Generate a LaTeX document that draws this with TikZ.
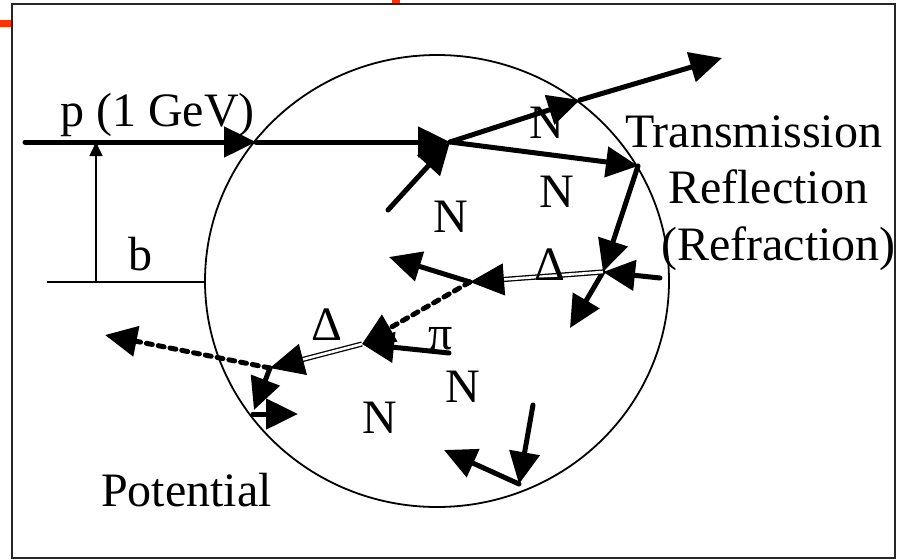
\documentclass[tikz,border=0pt]{standalone}
\usepackage{fontspec}
\setmainfont{Liberation Serif}
\newfontfamily\diagfont{Liberation Serif}
\usetikzlibrary{arrows.meta,calc}

\definecolor{slidered}{HTML}{FF3300}
\tikzset{
  arr/.style={line width=5pt, line cap=round, -{Triangle[length=32pt,width=30pt]}},
  dsh/.style={line width=5pt, dash pattern=on 6pt off 6pt, line cap=round, -{Triangle[length=32pt,width=30pt]}},
  dbl/.style={double, line width=1.3pt, double distance=2.6pt},
  headonly/.style={line width=1pt, -{Triangle[length=34pt,width=32pt]}},
  thin/.style={line width=1.5pt},
  lbl/.style={inner sep=0pt, font=\diagfont\fontsize{48}{56}\selectfont}
}

\begin{document}
\begin{tikzpicture}[x=1pt, y=-1pt]
\useasboundingbox (0,0) rectangle (903,560);
% slide leftovers
\fill[slidered] (0,20) rectangle (11,27);
\fill[slidered] (392,0) rectangle (400,4);
\draw[line width=2pt, black!85] (12,4) rectangle (895,558);

% nucleus
\draw[line width=1.8pt] (437,281) ellipse [x radius=232, y radius=226];

% impact parameter
\coordinate (bl) at (47,282);
\coordinate (br) at (205,282);
\coordinate (bb) at (96,282);
\coordinate (bt) at (96,142);
\draw[thin] (bl) -- (br);
\draw[thin, -{Triangle[length=14pt,width=13pt]}] (bb) -- (bt);

% vertices
\coordinate (start) at (25,142);
\coordinate (entry) at (256,142);
\coordinate (v) at (450,142);
\coordinate (nin) at (388,210);
\coordinate (tex) at (580,100);
\coordinate (tout) at (722,58);
\coordinate (rf) at (638,166);
\coordinate (d) at (603,272);
\coordinate (din) at (660,278);
\coordinate (dout) at (570,328);
\coordinate (e) at (470,282);
\coordinate (eout) at (389,257);
\coordinate (f) at (362,344);
\coordinate (fin) at (449,353);
\coordinate (g) at (270,368);
\coordinate (gout) at (105,335);
\coordinate (gdn) at (254,410);
\coordinate (ks) at (253,414);
\coordinate (ke) at (298,414);
\coordinate (htop) at (533,405);
\coordinate (h) at (519,484);
\coordinate (hout) at (444,450);

% beam and first collision
\draw[arr] (start) -- (entry);
\draw[arr] (entry) -- (v);
\draw[arr] (nin) -- (v);
\draw[arr] (v) -- (tex);
\draw[arr] (tex) -- (tout);
\draw[arr] (v) -- (rf);
\draw[arr] (rf) -- (d);

% Delta production
\draw[arr] (din) -- (d);
\draw[arr] (d) -- (dout);
\draw[dbl, shorten >=24pt] (d) -- (e);
\draw[headonly] ($(e)!26pt!(d)$) -- (e);
\draw[arr] (e) -- (eout);
\draw[dsh] (e) -- (f);
\draw[arr] (fin) -- (f);
\draw[dbl, shorten >=24pt] (f) -- (g);
\draw[headonly] ($(g)!26pt!(f)$) -- (g);
\draw[dsh] (g) -- (gout);
\draw[arr] (g) -- (gdn);
\draw[arr] (ks) -- (ke);
\draw[arr] (htop) -- (h);
\draw[arr] (h) -- (hout);

% labels
\node[lbl, anchor=base west] (beam) at (60,126) {p (1 GeV)};
\node[lbl, anchor=base] (blab) at (140,270) {b};
\node[lbl, anchor=base west] (trans) at (625,147) {Transmission};
\node[lbl, anchor=base west] (refl) at (668,203) {Reflection};
\node[lbl, anchor=base west] (refr) at (661,260) {(Refraction)};
\node[lbl, anchor=base west] (pot) at (101,506) {Potential};
\node[lbl, anchor=base] (n1) at (547,138) {N};
\node[lbl, anchor=base] (n2) at (557,207) {N};
\node[lbl, anchor=base] (n3) at (451,232) {N};
\node[lbl, anchor=base] (n4) at (463,402) {N};
\node[lbl, anchor=base] (n5) at (380,433) {N};
\node[lbl, anchor=base] (del1) at (550,280) {Δ};
\node[lbl, anchor=base] (del2) at (327,340) {Δ};
\node[lbl, anchor=base] (pi) at (441,349) {π};
\end{tikzpicture}
\end{document}
